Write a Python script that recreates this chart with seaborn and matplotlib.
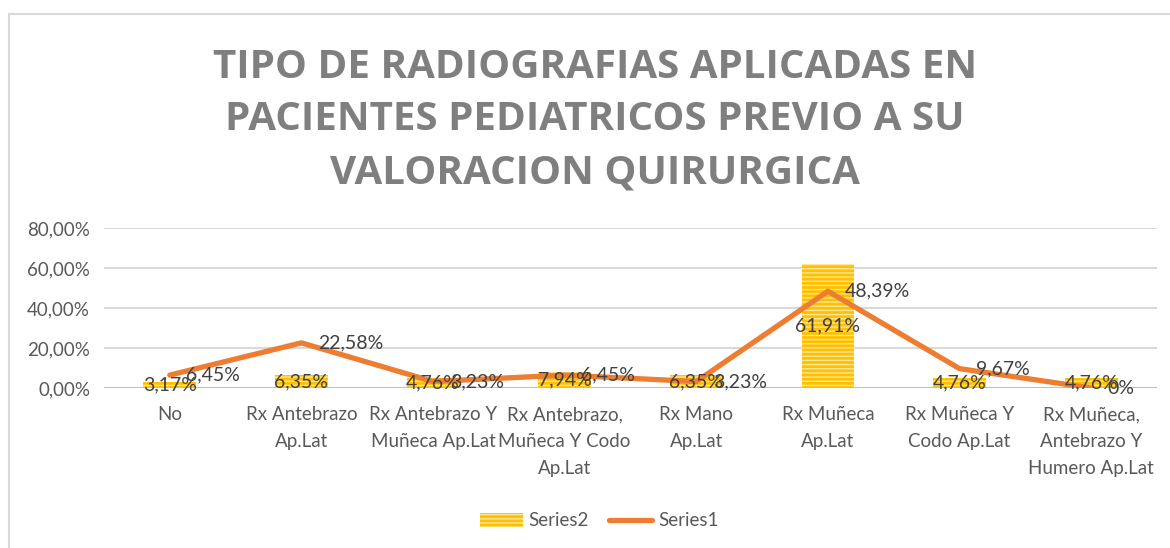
import numpy as np
import pandas as pd
import seaborn as sns
from matplotlib import pyplot as plt
from matplotlib.patches import Rectangle, Patch
from matplotlib.lines import Line2D
from matplotlib.ticker import FuncFormatter

categories = ["No", "Rx Antebrazo\nAp.Lat", "Rx Antebrazo Y\nMuñeca Ap.Lat",
              "Rx Antebrazo,\nMuñeca Y Codo\nAp.Lat", "Rx Mano\nAp.Lat",
              "Rx Muñeca\nAp.Lat", "Rx Muñeca Y\nCodo Ap.Lat",
              "Rx Muñeca,\nAntebrazo Y\nHumero Ap.Lat"]
series2 = [3.17, 6.35, 4.76, 7.94, 6.35, 61.91, 4.76, 4.76]
series1 = [6.45, 22.58, 3.23, 6.45, 3.23, 48.39, 9.67, 0.0]
series2_labels = ["3,17%", "6,35%", "4,76%", "7,94%", "6,35%", "61,91%", "4,76%", "4,76%"]
series1_labels = ["6,45%", "22,58%", "3,23%", "6,45%", "3,23%", "48,39%", "9,67%", "0%"]

title = "TIPO DE RADIOGRAFIAS APLICADAS EN\nPACIENTES PEDIATRICOS PREVIO A SU\nVALORACION QUIRURGICA"

sns.set_theme(style="white")
plt.rcParams['font.family'] = ['Lato', 'DejaVu Sans']
plt.rcParams['hatch.linewidth'] = 1.0

bar_color = "#FFC000"
line_color = "#ED7D31"
text_color = "#404040"

df = pd.DataFrame({"cat": categories, "s2": series2, "s1": series1, "pos": np.arange(len(categories))})

fig = plt.figure(figsize=(11.7, 5.48), dpi=100)
ax = fig.add_axes([104 / 1170, 160 / 548, 1053 / 1170, 160 / 548])

# outer chart border
fig.patches.append(Rectangle((9 / 1170, -0.1), 1.2, 1 - 14 / 548 + 0.1, transform=fig.transFigure,
                             fill=False, edgecolor="#D9D9D9", lw=1.5, zorder=0))

sns.barplot(data=df, x="cat", y="s2", ax=ax, color=bar_color, width=0.4, saturation=1,
            edgecolor="#FFE699", linewidth=0, hatch="----", zorder=2)
sns.lineplot(data=df, x="pos", y="s1", ax=ax, color=line_color, lw=3.8, zorder=3,
             solid_capstyle="round")

for i, v in enumerate(series2):
    ax.annotate(series2_labels[i], (i, v / 2), ha="center", va="center",
                fontsize=14, color=text_color, zorder=4)
for i, v in enumerate(series1):
    ax.annotate(series1_labels[i], (i, v), xytext=(12, 0), textcoords="offset points",
                ha="left", va="center", fontsize=14, color=text_color, zorder=4)

ax.set_xlim(-0.5, len(categories) - 0.5)
ax.set_ylim(0, 80)
ax.set_yticks([0, 20, 40, 60, 80])
ax.yaxis.set_major_formatter(FuncFormatter(lambda v, p: f"{v:.2f}".replace(".", ",") + "%"))
ax.grid(axis="y", color="#D9D9D9", lw=1.5, zorder=0)
ax.axhline(0, color="#BFBFBF", lw=2, zorder=1)
ax.set_axisbelow(True)
for s in ax.spines.values():
    s.set_visible(False)
ax.tick_params(axis="both", length=0, labelsize=13.5, labelcolor="#595959")
ax.tick_params(axis="y", pad=10)
ax.tick_params(axis="x", pad=13)
for t in ax.get_xticklabels():
    t.set_linespacing(1.7)
ax.set_xlabel("")
ax.set_ylabel("")

fig.text(595 / 1170, 1 - 120 / 548, title, ha="center", va="center", fontsize=29,
         fontweight="bold", color="#7F7F7F", family=["Open Sans", "DejaVu Sans"],
         linespacing=1.46)

handles = [Patch(facecolor=bar_color, edgecolor="#FFE699", hatch="----", lw=0),
           Line2D([], [], color=line_color, lw=3.8, solid_capstyle="round")]
fig.legend(handles, ["Series2", "Series1"], loc="center", bbox_to_anchor=(599 / 1170, 1 - 521 / 548),
           ncol=2, frameon=False, fontsize=13.5, labelcolor="#595959",
           handlelength=2.3, columnspacing=1.1, handletextpad=0.3)

fig.savefig("out.png", dpi=100)
